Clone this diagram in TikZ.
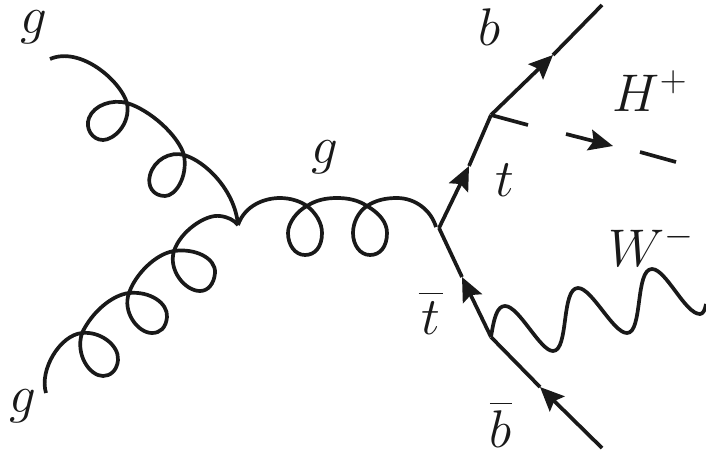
\documentclass[tikz,border=0pt]{standalone}
\usepackage{fix-cm}
\usetikzlibrary{arrows.meta}
\tikzset{
  particle/.style={line width=3.7pt,line cap=butt,line join=round,black!90},
  fermion/.style={particle,-{Stealth[length=24pt,width=21pt,inset=4pt]}},
  lbl/.style={inner sep=0pt,font=\fontsize{53}{57}\selectfont,text=black!90}
}
\begin{document}
\begin{tikzpicture}[x=1pt,y=-1pt]
\useasboundingbox (0,0) rectangle (706,456);
% vertices and free ends
\coordinate (gA) at (50,59);
\coordinate (gB) at (46,393);
\coordinate (ggg) at (238,225);
\coordinate (gEnd) at (436,227);
\coordinate (vA) at (439,228);
\coordinate (vT) at (491,115);
\coordinate (vB) at (491,337);
\coordinate (bEnd) at (602,5);
\coordinate (bbarEnd) at (602,448);
\coordinate (tTip) at (469,166);
\coordinate (bTip) at (553,55);
\coordinate (tbarTip) at (462,277);
\coordinate (bbarTip) at (540,387);
\coordinate (hA) at (528,125);
\coordinate (hB) at (566,134);
\coordinate (hTip) at (613,146);
\coordinate (hC) at (640,152);
\coordinate (hD) at (676,162);
\coordinate (wEnd) at (706,304);
% gluons
\draw[particle] (gA) .. controls (80,46) and (120,80) .. (127,103)
  .. controls (131,125) and (113,140) .. (103,140)
  .. controls (92,140) and (85,128) .. (89,118)
  .. controls (94,105) and (112,99) .. (127,103)
  .. controls (150,110) and (178,135) .. (184,155)
  .. controls (188,178) and (175,196) .. (165,196)
  .. controls (153,196) and (147,186) .. (150,175)
  .. controls (154,160) and (170,151) .. (184,155)
  .. controls (205,161) and (235,190) .. (ggg);
\draw[particle] (gB) .. controls (39,370) and (60,335) .. (82,333)
  .. controls (100,331) and (119,345) .. (118,360)
  .. controls (117,371) and (110,376) .. (103,376)
  .. controls (90,376) and (75,355) .. (82,333)
  .. controls (92,312) and (112,295) .. (129,293)
  .. controls (150,291) and (168,303) .. (167,317)
  .. controls (166,328) and (160,333) .. (152,333)
  .. controls (138,333) and (122,312) .. (129,293)
  .. controls (135,275) and (155,254) .. (174,251)
  .. controls (195,248) and (216,258) .. (215,273)
  .. controls (214,284) and (208,291) .. (200,291)
  .. controls (185,291) and (168,270) .. (174,251)
  .. controls (180,232) and (205,214) .. (220,216)
  .. controls (228,217) and (234,220) .. (ggg);
\draw[particle] (ggg) .. controls (245,205) and (265,198) .. (280,198)
  .. controls (290,198) and (300,201) .. (307,206)
  .. controls (316,213) and (322,223) .. (322,233)
  .. controls (322,247) and (315,255) .. (305,255)
  .. controls (295,255) and (288,245) .. (288,233)
  .. controls (288,223) and (297,211) .. (307,206)
  .. controls (316,200) and (326,198) .. (337,198)
  .. controls (348,198) and (358,200) .. (367,206)
  .. controls (379,213) and (387,222) .. (387,233)
  .. controls (387,247) and (380,255) .. (370,255)
  .. controls (360,255) and (353,245) .. (353,233)
  .. controls (353,223) and (358,212) .. (367,206)
  .. controls (376,200) and (386,198) .. (397,198)
  .. controls (415,198) and (431,210) .. (gEnd);
% fermions
\draw[fermion] (vA) -- (tTip);
\draw[particle] (tTip) -- (vT);
\draw[fermion] (vT) -- (bTip);
\draw[particle] (bTip) -- (bEnd);
\draw[fermion] (vB) -- (tbarTip);
\draw[particle] (tbarTip) -- (vA);
\draw[fermion] (bbarEnd) -- (bbarTip);
\draw[particle] (bbarTip) -- (vB);
% scalar
\draw[particle] (vT) -- (hA);
\draw[fermion] (hB) -- (hTip);
\draw[particle] (hC) -- (hD);
% W boson
\draw[particle] (vB) .. controls (494,318) and (497,306) .. (505,306)
  .. controls (519,306) and (540,351) .. (553,351)
  .. controls (569,351) and (561,288) .. (578,288)
  .. controls (592,288) and (613,333) .. (627,333)
  .. controls (643,333) and (635,269) .. (652,269)
  .. controls (666,269) and (685,314) .. (700,314)
  .. controls (703,314) and (705,310) .. (wEnd);
% labels
\node[lbl,anchor=base] (lgA) at (34,33) {$g$};
\node[lbl,anchor=base] (lgB) at (23,412) {$g$};
\node[lbl,anchor=base] (lgC) at (325,163) {$g$};
\node[lbl,anchor=base] (lb) at (490,45) {$b$};
\node[lbl,anchor=base] (lH) at (650,111) {$H^+$};
\node[lbl,anchor=base] (lt) at (505,196) {$t$};
\node[lbl,anchor=base] (lW) at (651,266) {$W^-$};
\node[lbl,anchor=base] (ltb) at (431,334) {$\overline{\rule{0pt}{39pt}\mkern1mu t\mkern1mu}$};
\node[lbl,anchor=base] (lbb) at (501,447) {$\overline{\rule{0pt}{42pt}b}$};
\end{tikzpicture}
\end{document}
